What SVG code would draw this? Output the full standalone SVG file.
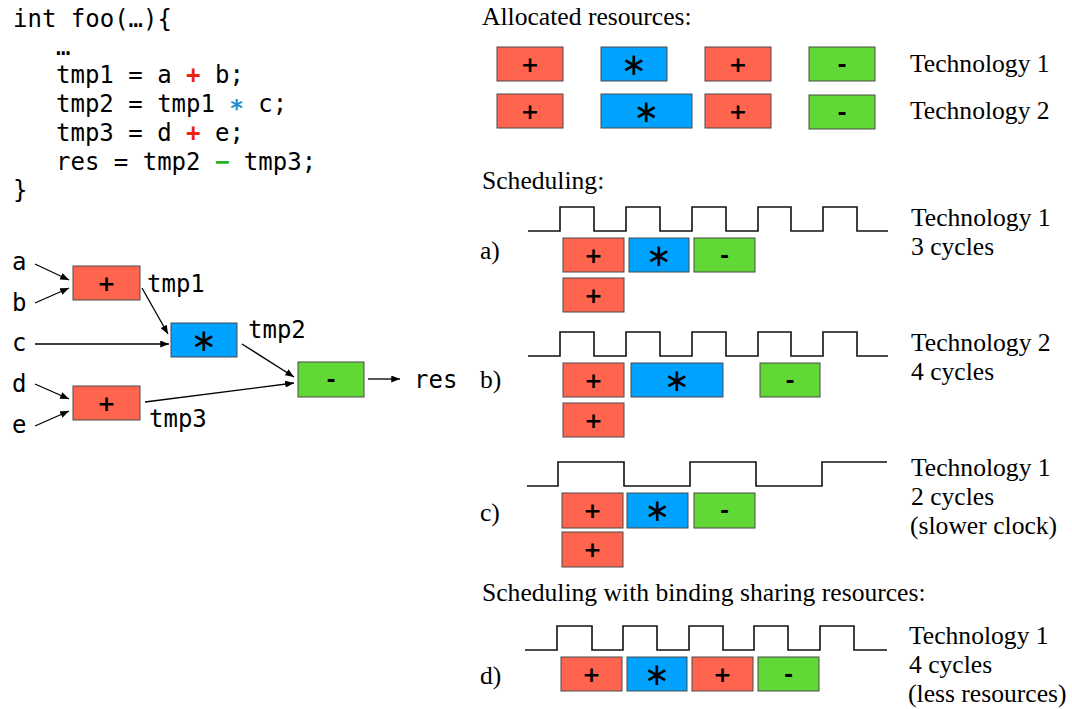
<svg xmlns="http://www.w3.org/2000/svg" width="1072" height="709" viewBox="0 0 1072 709">
<style>
.code{font-family:"DejaVu Sans Mono","Liberation Mono",monospace;font-size:24px;fill:#000}
.serif{font-family:"Liberation Serif","Times New Roman",serif;font-size:25.6px;fill:#000}
.op{font-family:"DejaVu Sans","Liberation Sans",sans-serif;font-size:22px;font-weight:bold;fill:#000;text-anchor:middle}
.star{font-size:31px;font-weight:normal}
.add{fill:#FF644E;stroke:#4a4a4a;stroke-width:1}
.mul{fill:#00A2FF;stroke:#4a4a4a;stroke-width:1}
.sub{fill:#61D836;stroke:#4a4a4a;stroke-width:1}
.clk{fill:none;stroke:#111;stroke-width:1.6}
.edge{fill:none;stroke:#000;stroke-width:1.3;marker-end:url(#ah)}
</style>
<defs>
<marker id="ah" viewBox="0 0 10 8" refX="10" refY="4" markerWidth="9" markerHeight="7" markerUnits="userSpaceOnUse" orient="auto">
<path d="M0,0 L10,4 L0,8 z" fill="#000"/>
</marker>
</defs>
<rect width="1072" height="709" fill="#fff"/>

<g id="code">
<text class="code" x="13" y="27">int foo(…){</text>
<text class="code" x="56" y="55">…</text>
<text class="code" x="56" y="83">tmp1 = a <tspan fill="#EE220C" font-weight="bold">+</tspan> b;</text>
<text class="code" x="56" y="112">tmp2 = tmp1 <tspan fill="#1E8CD2" font-weight="bold">∗</tspan> c;</text>
<text class="code" x="56" y="141">tmp3 = d <tspan fill="#EE220C" font-weight="bold">+</tspan> e;</text>
<text class="code" x="56" y="170">res = tmp2 <tspan fill="#29B21B" font-weight="bold">−</tspan> tmp3;</text>
<text class="code" x="13" y="198">}</text>
</g>

<g id="graph-labels">
<text class="code" x="12" y="270">a</text>
<text class="code" x="12" y="311">b</text>
<text class="code" x="12" y="351">c</text>
<text class="code" x="12" y="392">d</text>
<text class="code" x="12" y="433">e</text>
<text class="code" x="147" y="292">tmp1</text>
<text class="code" x="248" y="338">tmp2</text>
<text class="code" x="149" y="427">tmp3</text>
<text class="code" x="414" y="388">res</text>
</g>

<g id="node-add1"><rect class="add" x="73" y="266" width="67" height="34"/><text class="op" x="106.5" y="291">+</text></g>
<g id="node-mul"><rect class="mul" x="171" y="323" width="66" height="34"/><text class="op star" x="204" y="351">∗</text></g>
<g id="node-sub"><rect class="sub" x="298" y="362" width="66" height="35"/><text class="op" x="331" y="387">-</text></g>
<g id="node-add2"><rect class="add" x="73" y="386" width="67" height="34"/><text class="op" x="106.5" y="411">+</text></g>

<g id="connectors">
<line class="edge" x1="35" y1="264" x2="69" y2="280"/>
<line class="edge" x1="35" y1="303" x2="69" y2="288"/>
<line class="edge" x1="35" y1="344" x2="169" y2="344"/>
<line class="edge" x1="35" y1="384" x2="69" y2="399"/>
<line class="edge" x1="35" y1="426" x2="69" y2="411"/>
<line class="edge" x1="142" y1="288" x2="168" y2="334"/>
<line class="edge" x1="242" y1="344" x2="294" y2="377"/>
<line class="edge" x1="145" y1="402" x2="294" y2="383"/>
<line class="edge" x1="368" y1="379" x2="400" y2="379"/>
</g>

<g id="allocated">
<text class="serif" x="482" y="25">Allocated resources:</text>
<g id="alloc-t1">
<rect class="add" x="497" y="47" width="66" height="34"/><text class="op" x="530" y="72">+</text>
<rect class="mul" x="601" y="47" width="66" height="34"/><text class="op star" x="634" y="75">∗</text>
<rect class="add" x="705" y="47" width="66" height="34"/><text class="op" x="738" y="72">+</text>
<rect class="sub" x="809" y="47" width="66" height="34"/><text class="op" x="842" y="72">-</text>
<text class="serif" x="910" y="72">Technology 1</text>
</g>
<g id="alloc-t2">
<rect class="add" x="497" y="94" width="66" height="34"/><text class="op" x="530" y="119">+</text>
<rect class="mul" x="601" y="94" width="91" height="34"/><text class="op star" x="646.5" y="122">∗</text>
<rect class="add" x="705" y="94" width="66" height="34"/><text class="op" x="738" y="119">+</text>
<rect class="sub" x="809" y="95" width="66" height="34"/><text class="op" x="842" y="120">-</text>
<text class="serif" x="910" y="119">Technology 2</text>
</g>
</g>

<text class="serif" x="482" y="189">Scheduling:</text>

<g id="sched-a">
<polyline class="clk" points="528,231 560,231 560,207 594,207 594,231 626,231 626,207 660,207 660,231 692,231 692,207 726,207 726,231 758,231 758,207 791,207 791,231 823,231 823,207 857,207 857,231 888,231"/>
<text class="serif" x="480" y="259">a)</text>
<rect class="add" x="563" y="238" width="61" height="34"/><text class="op" x="593.5" y="263">+</text>
<rect class="mul" x="629" y="238" width="60" height="34"/><text class="op star" x="659" y="266">∗</text>
<rect class="sub" x="694" y="238" width="61" height="34"/><text class="op" x="724.5" y="263">-</text>
<rect class="add" x="563" y="278" width="61" height="34"/><text class="op" x="593.5" y="303">+</text>
<text class="serif" x="911" y="226">Technology 1</text>
<text class="serif" x="911" y="255">3 cycles</text>
</g>

<g id="sched-b">
<polyline class="clk" points="528,356 560,356 560,332 594,332 594,356 626,356 626,332 660,332 660,356 692,356 692,332 726,332 726,356 758,356 758,332 791,332 791,356 823,356 823,332 857,332 857,356 888,356"/>
<text class="serif" x="480" y="388">b)</text>
<rect class="add" x="563" y="363" width="61" height="34"/><text class="op" x="593.5" y="388">+</text>
<rect class="mul" x="631" y="363" width="92" height="34"/><text class="op star" x="677" y="391">∗</text>
<rect class="sub" x="760" y="363" width="60" height="34"/><text class="op" x="790" y="388">-</text>
<rect class="add" x="563" y="403" width="61" height="34"/><text class="op" x="593.5" y="428">+</text>
<text class="serif" x="911" y="351">Technology 2</text>
<text class="serif" x="911" y="380">4 cycles</text>
</g>

<g id="sched-c">
<polyline class="clk" points="527,486 558,486 558,462 624,462 624,486 690,486 690,462 756,462 756,486 822,486 822,462 887,462"/>
<text class="serif" x="480" y="521">c)</text>
<rect class="add" x="562" y="493" width="61" height="35"/><text class="op" x="592.5" y="518">+</text>
<rect class="mul" x="627" y="493" width="61" height="35"/><text class="op star" x="657.5" y="521">∗</text>
<rect class="sub" x="694" y="493" width="61" height="35"/><text class="op" x="724.5" y="518">-</text>
<rect class="add" x="562" y="532" width="61" height="35"/><text class="op" x="592.5" y="557">+</text>
<text class="serif" x="911" y="476">Technology 1</text>
<text class="serif" x="911" y="505">2 cycles</text>
<text class="serif" x="910" y="534">(slower clock)</text>
</g>

<text class="serif" x="482" y="601">Scheduling with binding sharing resources:</text>

<g id="sched-d">
<polyline class="clk" points="525,650 557,650 557,626 592,626 592,650 623,650 623,626 657,626 657,650 689,650 689,626 723,626 723,650 754,650 754,626 788,626 788,650 820,650 820,626 854,626 854,650 887,650"/>
<text class="serif" x="480" y="684">d)</text>
<rect class="add" x="561" y="657" width="61" height="34"/><text class="op" x="591.5" y="682">+</text>
<rect class="mul" x="627" y="657" width="60" height="34"/><text class="op star" x="657" y="685">∗</text>
<rect class="add" x="692" y="657" width="61" height="34"/><text class="op" x="722.5" y="682">+</text>
<rect class="sub" x="758" y="657" width="61" height="34"/><text class="op" x="788.5" y="682">-</text>
<text class="serif" x="909" y="644">Technology 1</text>
<text class="serif" x="909" y="673">4 cycles</text>
<text class="serif" x="908" y="702">(less resources)</text>
</g>
</svg>
